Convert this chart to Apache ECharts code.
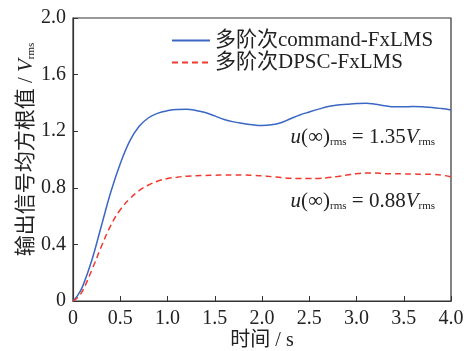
<!DOCTYPE html>
<html>
<head>
<meta charset="utf-8">
<script src="https://cdn.jsdelivr.net/npm/echarts@6/dist/echarts.min.js"></script>
<style>
  html, body { margin: 0; padding: 0; background: #fff; }
  #chart { width: 469px; height: 351px; }
</style>
</head>
<body>
<div id="chart"></div>
<script>
// Time axis samples (s)
const times = [0, 0.05, 0.1, 0.2, 0.3, 0.4, 0.5, 0.6, 0.7, 0.8, 0.9, 1.0, 1.1, 1.2, 1.3, 1.4, 1.5, 1.6, 1.7, 1.8, 1.9, 2.0,
  2.1, 2.2, 2.3, 2.4, 2.5, 2.6, 2.7, 2.8, 2.9, 3.0, 3.1, 3.2, 3.3, 3.4, 3.5, 3.6, 3.7, 3.8, 3.9, 4.0];

// RMS output of multi-order command-FxLMS (V_rms)
const commandFx = [0, 0.04, 0.10, 0.29, 0.53, 0.77, 0.97, 1.13, 1.235, 1.295, 1.328, 1.345, 1.354, 1.355, 1.347, 1.332, 1.308, 1.283, 1.266, 1.255, 1.245, 1.24,
  1.245, 1.26, 1.288, 1.315, 1.336, 1.356, 1.374, 1.385, 1.39, 1.395, 1.398, 1.39, 1.38, 1.372, 1.373, 1.374, 1.372, 1.368, 1.36, 1.35];

// RMS output of multi-order DPSC-FxLMS (V_rms)
const dpscFx = [0, 0.025, 0.07, 0.22, 0.385, 0.535, 0.645, 0.722, 0.78, 0.82, 0.848, 0.865, 0.875, 0.882, 0.885, 0.887, 0.889, 0.89, 0.89, 0.89, 0.888, 0.885,
  0.879, 0.872, 0.867, 0.865, 0.865, 0.866, 0.872, 0.88, 0.89, 0.9, 0.905, 0.904, 0.9, 0.9, 0.898, 0.897, 0.896, 0.895, 0.89, 0.877];

const seriesNames = ['多阶次command-FxLMS', '多阶次DPSC-FxLMS'];
const xTicks = [0, 0.5, 1.0, 1.5, 2.0, 2.5, 3.0, 3.5, 4.0];
const yTicks = [0, 0.4, 0.8, 1.2, 1.6, 2.0];
const steadyValues = [1.35, 0.88];

const serif = '"Liberation Serif", "Noto Sans CJK SC", serif';
const ink = '#222';

const chart = echarts.init(document.getElementById('chart'), null, { renderer: 'canvas' });

const pair = arr => times.map((t, i) => [t, arr[i]]);

const fmt = v => (v === 0 ? '0' : v.toFixed(1));

const makeRich = size => ({
  i: { fontFamily: serif, fontStyle: 'italic', fontSize: size, color: ink },
  s: { fontFamily: serif, fontSize: 11, color: ink, verticalAlign: 'bottom', padding: [8, 0, 0, 0] },
  n: { fontFamily: serif, fontSize: size, color: ink }
});

const steadyLabel = v => '{i|u}{n|(∞)}{s|rms}{n| = ' + v.toFixed(2) + '}{i|V}{s|rms}';

chart.setOption({
  animation: false,
  grid: {
    left: 73, right: 18, top: 18, bottom: 50,
    outerBoundsMode: 'none',
    containLabel: false,
    show: true, borderColor: '#333', borderWidth: 1.2, backgroundColor: 'transparent'
  },
  legend: {
    data: seriesNames,
    orient: 'vertical',
    left: 166,
    top: 25,
    itemWidth: 38,
    itemHeight: 10,
    itemGap: 1,
    itemStyle: { opacity: 0 },
    textStyle: { fontFamily: serif, fontSize: 21, color: ink }
  },
  xAxis: {
    type: 'value',
    min: 0, max: 4, interval: 0.5,
    name: '时间 / s',
    nameLocation: 'middle',
    nameGap: 30,
    nameMoveOverlap: false,
    nameTextStyle: { fontFamily: serif, fontSize: 20, color: ink },
    axisLine: { show: true, lineStyle: { color: '#333', width: 1.2 } },
    axisTick: { show: true, inside: true, length: 5, lineStyle: { color: '#333' } },
    axisLabel: { fontFamily: serif, fontSize: 20, color: ink, margin: 8, formatter: fmt },
    splitLine: { show: false }
  },
  yAxis: {
    type: 'value',
    min: 0, max: 2, interval: 0.4,
    name: '输出信号均方根值 / {i|V}{s|rms}',
    nameLocation: 'middle',
    nameGap: 36,
    nameMoveOverlap: false,
    nameTextStyle: { fontFamily: serif, fontSize: 21, color: ink, rich: makeRich(21), padding: [0, 0, 0, 20] },
    axisLine: { show: true, lineStyle: { color: '#333', width: 1.2 } },
    axisTick: { show: true, inside: true, length: 5, lineStyle: { color: '#333' } },
    axisLabel: { fontFamily: serif, fontSize: 20, color: ink, margin: 7, formatter: fmt },
    splitLine: { show: false }
  },
  series: [
    {
      name: seriesNames[0],
      type: 'line',
      data: pair(commandFx),
      smooth: 0.4,
      symbol: 'none',
      lineStyle: { color: '#3a66c4', width: 1.5 },
      itemStyle: { color: '#3a66c4' }
    },
    {
      name: seriesNames[1],
      type: 'line',
      data: pair(dpscFx),
      smooth: 0.4,
      symbol: 'none',
      lineStyle: { color: '#f03a2e', width: 1.5, type: [6, 4] },
      itemStyle: { color: '#f03a2e' }
    }
  ],
  graphic: [
    {
      type: 'text', right: 34, top: 127,
      style: { text: steadyLabel(steadyValues[0]), rich: makeRich(21), fontFamily: serif, fontSize: 21, fill: ink }
    },
    {
      type: 'text', right: 34, top: 191,
      style: { text: steadyLabel(steadyValues[1]), rich: makeRich(21), fontFamily: serif, fontSize: 21, fill: ink }
    }
  ]
});
</script>
</body>
</html>
